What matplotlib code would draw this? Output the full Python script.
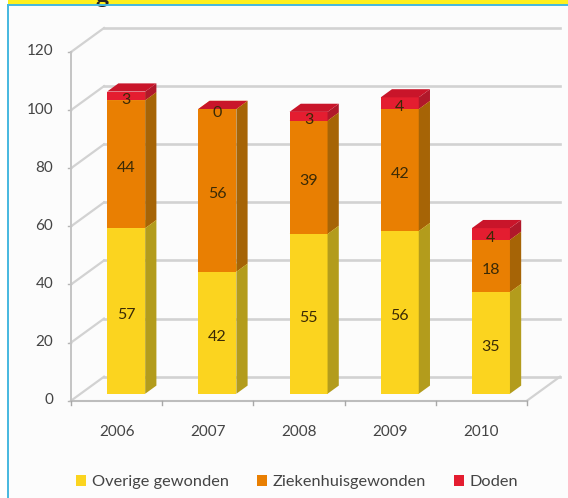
import numpy as np
import matplotlib.pyplot as plt
from matplotlib.patches import Patch, Polygon

years = ["2006", "2007", "2008", "2009", "2010"]
overige = [57, 42, 55, 56, 35]
ziekenhuis = [44, 56, 39, 42, 18]
doden = [3, 0, 3, 4, 4]
series_names = ["Overige gewonden", "Ziekenhuisgewonden", "Doden"]
y_ticks = [0, 20, 40, 60, 80, 100, 120]

FRONT = ["#FBD41F", "#E97F02", "#E41D30"]
SIDE = ["#B39C1C", "#A66406", "#B0182A"]
TOP = ["#FFE04A", "#F09A2A", "#C9152A"]
GRID = "#D2D2D2"
TEXT = "#444444"

# oblique depth of the 3D box, in data units
DEPTH_X = 0.362
DEPTH_Y = 8.26
BAR_W = 0.417
BAR_START = 0.29
BAR_DEPTH = 0.34

plt.rcParams["font.family"] = ["Lato", "DejaVu Sans"]

fig = plt.figure(figsize=(5.68, 4.98), dpi=100, facecolor="white")
ax = fig.add_axes([0, 0, 1, 1])
ax.set_xlim(-1.2785, 4.95)
ax.set_ylim(-33.48, 137.9)
ax.axis("off")


def px(x, y):
    """Pixel position of the frame -> axes fraction"""
    return x / 568, 1 - y / 498


def project(x, depth, value):
    return x + DEPTH_X * depth, value + DEPTH_Y * depth


def draw_box(x, base, height, i):
    left = x - BAR_W / 2
    right = x + BAR_W / 2
    d0 = BAR_START
    d1 = BAR_START + BAR_DEPTH
    top = base + height
    ax.add_patch(Polygon([project(left, d0, base), project(right, d0, base),
                          project(right, d0, top), project(left, d0, top)],
                         fc=FRONT[i], ec="none", zorder=3))
    ax.add_patch(Polygon([project(right, d0, base), project(right, d1, base),
                          project(right, d1, top), project(right, d0, top)],
                         fc=SIDE[i], ec="none", zorder=3))
    ax.add_patch(Polygon([project(left, d0, top), project(right, d0, top),
                          project(right, d1, top), project(left, d1, top)],
                         fc=TOP[i], ec="none", zorder=3))


# frame of the page: white margin, blue rule, yellow heading strip
ax.add_patch(plt.Rectangle(px(8, 498), 560 / 568, 493 / 498, transform=ax.transAxes,
                           fc="#FCFCFC", ec="none", zorder=0))
ax.add_patch(plt.Rectangle(px(8, 5), 560 / 568, 5 / 498, transform=ax.transAxes,
                           fc="#FFF01E", ec="none", zorder=1))
ax.plot(*zip(px(8, 5), px(568, 5)), transform=ax.transAxes, color="#45B8E0", lw=1.4, zorder=2)
ax.plot(*zip(px(8, 5), px(8, 498)), transform=ax.transAxes, color="#45B8E0", lw=1.4, zorder=2)
title = ax.text(*px(102, -4), "g", transform=ax.transAxes, fontsize=18, fontweight="bold",
                color="#222222", ha="center", va="center", zorder=1.5)
title.set_clip_path(plt.Rectangle(px(8, 5), 560 / 568, 5 / 498, transform=ax.transAxes))

# walls and floor
x_left = -0.5
x_right = len(years) - 0.5
for v in y_ticks:
    bx, by = project(x_left, 1, v)
    ex, ey = project(x_right, 1, v)
    ax.plot([x_left, bx], [v, by], color=GRID, lw=1.6, zorder=1)
    ax.plot([bx, ex], [by, ey], color=GRID, lw=1.9, zorder=1)
    ax.plot([x_left - 0.03, x_left], [v, v], color="#B5B5B5", lw=1.0, zorder=1)
ax.plot([x_left, x_left], [0, 120], color="#C4C4C4", lw=1.4, zorder=1)
ax.plot([x_left, x_right], [0, 0], color="#BDBDBD", lw=1.5, zorder=2)
ax.plot([x_right, x_right + DEPTH_X], [0, DEPTH_Y], color=GRID, lw=1.6, zorder=1)
for i in range(len(years) + 1):
    ax.plot([x_left + i, x_left + i], [0, -1.6], color="#A8A8A8", lw=1.0, zorder=2)

# bars
for k in range(len(years)):
    base = 0
    for i, values in enumerate([overige, ziekenhuis, doden]):
        draw_box(k, base, values[k], i)
        lx, ly = project(k, BAR_START, base + values[k] / 2)
        ax.text(lx, ly - 1.3, str(values[k]), fontsize=11.5, ha="center", va="center",
                color="#3A2A06", zorder=5)
        base += values[k]

for v in y_ticks:
    ax.text(x_left - 0.195, v + 0.2, str(v), fontsize=11, ha="right", va="center", color=TEXT)
for k, year in enumerate(years):
    ax.text(k, -10.9, year, fontsize=11, ha="center", va="center", color=TEXT)

handles = [Patch(fc=c, ec="none") for c in FRONT]
ax.legend(handles, series_names, loc="center", bbox_to_anchor=px(297, 482), ncol=3,
          frameon=False, fontsize=11.8, labelcolor=TEXT, handlelength=0.62, handleheight=0.62,
          handletextpad=0.35, columnspacing=1.7)

fig.savefig("out.png", dpi=100)
